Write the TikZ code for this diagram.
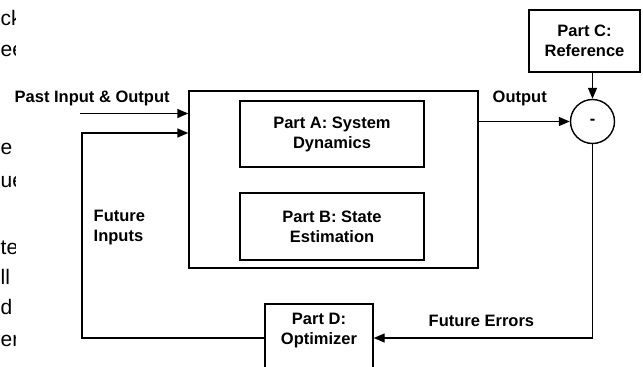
\documentclass[tikz,border=0pt]{standalone}
\usepackage{fontspec}
\setmainfont{Liberation Sans}
\usetikzlibrary{arrows.meta, calc}

\begin{document}
\begin{tikzpicture}[
    x=1pt, y=-1pt,
    line width=1.4pt,
    every node/.style={font=\fontsize{16.5}{20}\selectfont\bfseries,inner sep=0pt},
    blk/.style={draw,rectangle,align=center},
    lbl/.style={align=left},
    sumnode/.style={draw,circle,minimum size=44pt},
    arr/.style={-{Triangle[length=11pt,width=9pt]}},
    frag/.style={font=\fontsize{21}{25}\selectfont,text=black,anchor=base west}
  ]
  \useasboundingbox (0,0) rectangle (643,367);
  % text of the page, cut off at the left edge
  \begin{scope}
    \clip (0,0) rectangle (15.5,367);
    \node[frag] (fa) at (0,25) {ck};
    \node[frag] (fb) at (0,56) {ee};
    \node[frag] (fc) at (0,154) {e};
    \node[frag] (fd) at (0,187) {ue};
    \node[frag] (fe) at (0,254) {te};
    \node[frag] (ff) at (0,284) {ll};
    \node[frag] (fg) at (0,314) {d};
    \node[frag] (fh) at (0,346) {er};
  \end{scope}

  \node[blk,minimum width=289pt,minimum height=177pt] (sys) at (333.5,179.5) {};
  \node[blk,minimum width=184pt,minimum height=66pt] (parta) at (332,134) {Part A: System\\Dynamics};
  \node[blk,minimum width=184pt,minimum height=67pt] (partb) at (332,226.5) {Part B: State\\Estimation};
  \node[blk,minimum width=111pt,minimum height=62pt] (partc) at (584.5,41) {Part C:\\Reference};
  \node[sumnode] (sum) at (592.5,121.5) {-};
  \node[blk,minimum width=108pt,minimum height=68pt] (partd) at (319,338) {};
  \node[align=center] (partdtxt) at ([yshift=7pt]partd.center) {Part D:\\Optimizer};

  \coordinate (pastin) at (80,113.5);
  \coordinate (futin) at (82,133);

  \draw[arr] (pastin) -- (pastin -| sys.west);
  \draw[arr] (partd.west) -| (futin) -- (futin -| sys.west);
  \draw[arr] (sys.east |- sum.west) -- (sum.west);
  \draw[arr] (partc.south -| sum.north) -- (sum.north);
  \draw[arr] (sum.south) |- (partd.east);

  \node[anchor=base west] (pastlbl) at (14,102) {Past Input \& Output};
  \node[lbl,anchor=west] (futinlbl) at (93,228) {Future\\Inputs};
  \node[anchor=base west] (outlbl) at (492,102) {Output};
  \node[anchor=base west] (errlbl) at (428,326) {Future Errors};
\end{tikzpicture}
\end{document}
